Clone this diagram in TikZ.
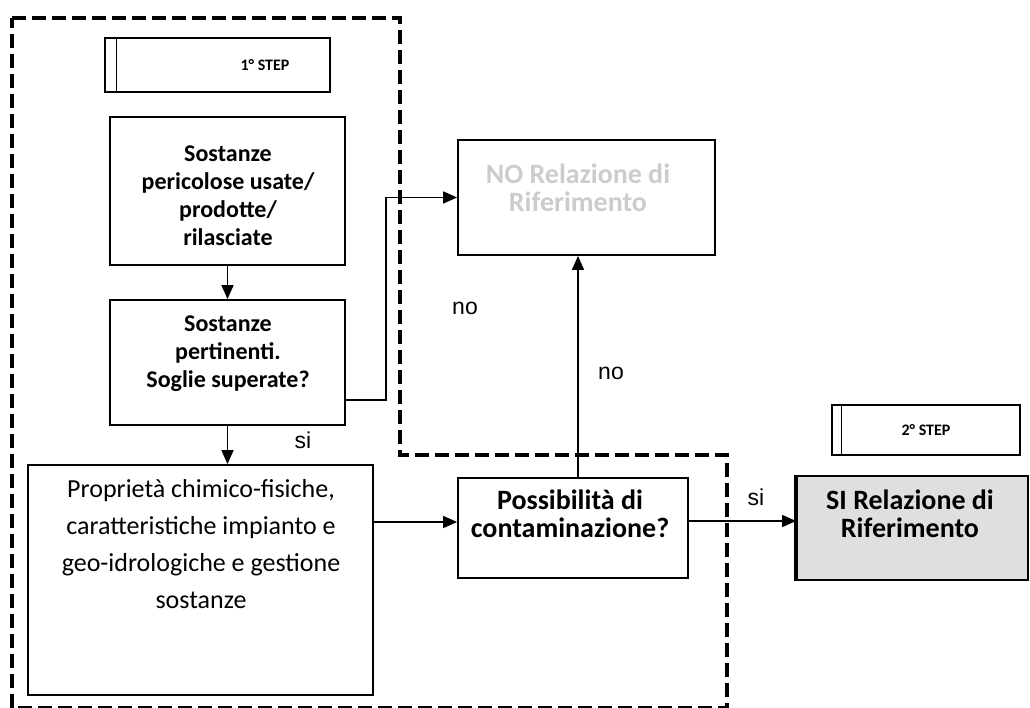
\documentclass[tikz,border=0pt]{standalone}
\usepackage{fontspec}
\setmainfont{Carlito}
\newfontfamily\arialf{Liberation Sans}
\usetikzlibrary{arrows.meta}
\begin{document}
\begin{tikzpicture}[x=1pt,y=-1pt,
  box/.style={draw, line width=1.8pt, inner sep=0pt},
  txt/.style={inner sep=0pt, align=center},
  boldtxt/.style={txt, font=\fontsize{24}{28}\selectfont\bfseries},
  bigtxt/.style={txt, font=\fontsize{28}{28}\selectfont\bfseries},
  steptxt/.style={txt, font=\fontsize{16}{20}\selectfont\bfseries},
  plaintxt/.style={txt, font=\fontsize{26}{37}\selectfont},
  lbl/.style={font=\arialf\fontsize{23}{26}\selectfont, inner sep=0pt},
  arr/.style={line width=1.5pt, -{Triangle[length=14pt,width=12pt]}},
  bound/.style={line width=4pt, dash pattern=on 14pt off 6pt}
]
\useasboundingbox (0,0) rectangle (1030,708);

% dashed boundary
\draw[bound] (12,18) -- (400,18) -- (400,455) -- (727,455) -- (727,708) -- (12,708) -- cycle;

% boxes
\node[box, minimum width=225pt, minimum height=54pt] (step1) at (217.5,65) {};
\draw[line width=1pt] ([xshift=12pt]step1.north west) -- ([xshift=12pt]step1.south west);
\node[steptxt] (step1t) at (265,65) {1° STEP};

\node[box, minimum width=235pt, minimum height=148pt] (peri) at (227.5,191) {};
\node[boldtxt] (perit) at (228,196) {Sostanze\\pericolose usate/\\prodotte/\\rilasciate};

\node[box, minimum width=235pt, minimum height=125pt] (pert) at (227.5,362.5) {};
\node[boldtxt] (pertt) at (228,354) {Sostanze\\pertinenti.\\Soglie superate?};

\node[box, minimum width=257pt, minimum height=115pt] (no) at (586.5,197.5) {};
\node[bigtxt, text=gray!40] (not) at (578,188) {NO Relazione di\\Riferimento};

\node[box, minimum width=345pt, minimum height=230pt] (prop) at (200.5,580) {};
\node[plaintxt] (propt) at (201,544) {Proprietà chimico-fisiche,\\caratteristiche impianto e\\geo-idrologiche e gestione\\sostanze};

\node[box, minimum width=230pt, minimum height=100pt] (poss) at (573,528) {};
\node[bigtxt] (posst) at (570,514) {Possibilità di\\contaminazione?};

\node[box, minimum width=188pt, minimum height=50pt] (step2) at (926,430) {};
\draw[line width=1pt] ([xshift=10pt]step2.north west) -- ([xshift=10pt]step2.south west);
\node[steptxt] (step2t) at (926,430) {2° STEP};

\node[box, fill=gray!25, minimum width=231pt, minimum height=104pt] (si) at (912.5,528) {};
\draw[line width=4pt] (si.north west) -- (si.south west);
\node[bigtxt] (sit) at (910,514) {SI Relazione di\\Riferimento};

% connectors
\draw[arr] (peri.south) -- (pert.north);
\draw[arr] ([yshift=-37.5pt]pert.east) -- ++(40,0) |- (no.west);
\draw[arr] (pert.south) -- (pert.south |- prop.north);
\draw[arr] (prop.east |- 0,522) -- (poss.west |- 0,522);
\draw[arr] ([xshift=5pt]poss.north) -- ([xshift=5pt]poss.north |- no.south);
\draw[arr] (poss.east |- 0,521) -- (si.west |- 0,521);

% labels
\node[lbl] (no1) at (465,308) {no};
\node[lbl] (no2) at (611,373) {no};
\node[lbl] (si1) at (303,440) {si};
\node[lbl] (si2) at (756,497) {si};
\end{tikzpicture}
\end{document}
